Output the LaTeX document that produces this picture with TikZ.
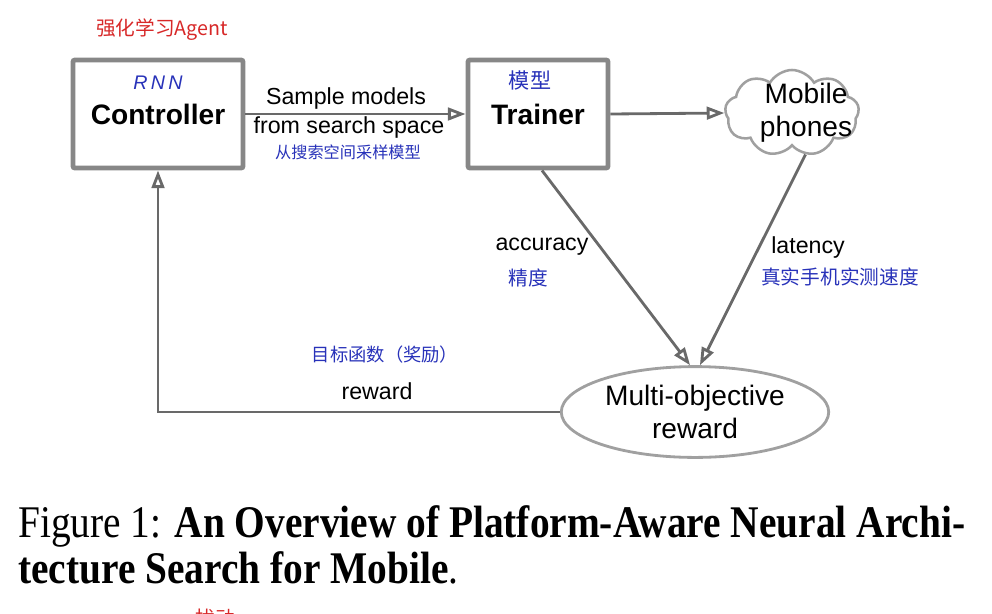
\documentclass[tikz,border=0pt]{standalone}
\usepackage{fontspec}
\setmainfont{Liberation Serif}
\setsansfont{Liberation Sans}
\newfontfamily\cjk{Noto Sans CJK SC}
\usetikzlibrary{arrows.meta, shapes.symbols, shapes.geometric}
\definecolor{boxgray}{RGB}{135,135,135}
\definecolor{linegray}{RGB}{105,105,105}
\definecolor{shapegray}{RGB}{160,160,160}
\definecolor{handblue}{RGB}{40,50,185}
\definecolor{handred}{RGB}{215,40,40}
\tikzset{
  box/.style={draw=boxgray, line width=3.5pt, fill=white, rounded corners=1.5pt, minimum height=2.7cm, font=\sffamily\bfseries\fontsize{20}{24}\selectfont},
  flow/.style={draw=linegray, line width=2pt, -{Triangle[open, length=12.5pt, width=9pt]}},
  tag/.style={font=\sffamily\fontsize{16.5}{19}\selectfont, inner sep=0pt},
  big/.style={font=\sffamily\fontsize{20}{23.5}\selectfont, align=center},
  hand/.style={font=\cjk\fontsize{14}{16}\selectfont, text=handblue, inner sep=0pt},
}

\begin{document}
\begin{tikzpicture}[x=0.025cm, y=-0.025cm]
\useasboundingbox (0,0) rectangle (992,613);
\node [box, minimum width=4.25cm] (ctrl) at (158,114) {Controller};
\node [box, minimum width=3.5cm] (train) at (538,114) {Trainer};
\node [cloud, draw=shapegray, line width=1.8pt, cloud puffs=9, cloud puff arc=120, aspect=1.5, minimum width=3.35cm, minimum height=2.15cm, inner sep=0pt] (phones) at (792,113) {};
\node [big] (phonestext) at (806,113) {Mobile\\phones};
\node [ellipse, draw=shapegray, line width=2pt, minimum width=6.55cm, minimum height=2.27cm, big] (goal) at (695,412) {Multi-objective\\reward};
\draw [flow] (ctrl.east) -- (train.west);
\draw [flow] (train.east) -- (phones.west);
\draw [flow] ([xshift=0.1cm]train.south) -- (goal.96);
\draw [flow] (phones.-72) -- (goal.84);
\draw [flow] (goal.west) -| (ctrl.south);
\node [tag] (sample) at (346,98) {Sample models};
\node [tag] (space) at (349,127) {from search space};
\node [tag] (acc) at (542,247) {accuracy};
\node [tag] (lat) at (808,247) {latency};
\node [tag] (rew) at (377,391) {reward};
\node [hand, font=\sffamily\itshape\fontsize{14}{16}\selectfont] (rnn) at (158,83) {R\,N\,N};
\node [hand, font=\cjk\fontsize{15}{17}\selectfont] (model) at (530,80) {模型};
\node [hand, font=\cjk\fontsize{11.5}{14}\selectfont] (samplecn) at (348,152) {从搜索空间采样模型};
\node [hand] (acccn) at (528,278) {精度};
\node [hand] (latcn) at (840,277) {真实手机实测速度};
\node [hand, font=\cjk\fontsize{13}{15}\selectfont] (rewcn) at (385,355) {目标函数（奖励）};
\node [hand, text=handred] (agent) at (162,30) {强化学习Agent};
\node [hand, text=handred] (note) at (215,618) {扰动};
\node [anchor=base west, inner sep=0pt, font=\fontsize{28}{32}\selectfont] (cap1) at (18,537) {\scalebox{1}[1.15]{Figure 1: \textbf{An Overview of Platform-Aware Neural Archi-}}};
\node [anchor=base west, inner sep=0pt, font=\fontsize{28}{32}\selectfont] (cap2) at (18,583) {\scalebox{1}[1.15]{\textbf{tecture Search for Mobile}.}};
\end{tikzpicture}
\end{document}
